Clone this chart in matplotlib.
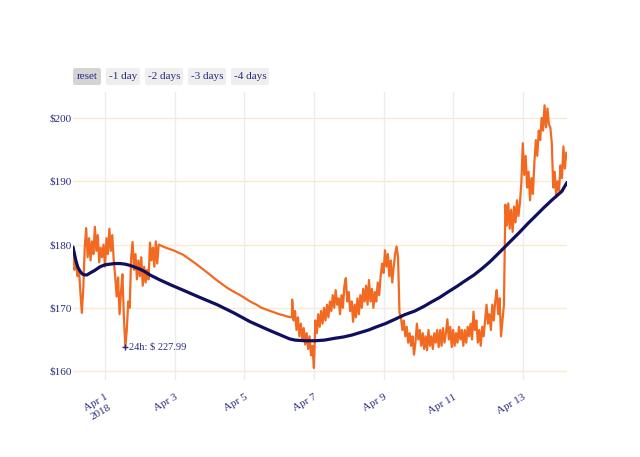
import numpy as np
import pandas as pd
import matplotlib
matplotlib.use("Agg")
import matplotlib.pyplot as plt
from matplotlib.patches import FancyBboxPatch

plt.rcParams['font.family'] = ['Liberation Serif', 'DejaVu Serif']

# --- data -------------------------------------------------------------
base_day = pd.Timestamp('2018-04-01')

# hourly prices, first block (Mar 31 02:00 onwards)
price_a_start = '2018-03-31 02:00'
price_a = [
    179.4, 176.0, 177.5, 175.0, 176.2, 172.5, 169.2, 173.0, 179.5, 182.6,
    178.0, 181.0, 177.5, 180.5, 178.5, 182.8, 179.0, 181.5, 177.2, 179.5,
    178.0, 180.0, 176.5, 181.0, 178.5, 182.5, 179.0, 181.5, 177.5, 175.0,
    171.8, 174.8, 169.0, 172.5, 175.3, 168.5, 163.8, 166.5, 171.0, 170.0,
    177.9, 180.4, 176.0, 178.5, 174.5, 177.5, 175.0, 178.0, 173.5, 176.5,
    174.0, 176.0, 174.5, 180.3, 177.5, 179.5, 176.5, 180.5, 177.0, 180.0,
]

# gap in the feed (days after Apr 1, price)
gap_days = [1.62, 1.70, 1.85, 2.0, 2.24, 2.5, 2.72, 3.0, 3.2, 3.35, 3.5,
            3.68, 3.85, 4.0, 4.17, 4.35, 4.5, 4.65, 4.8, 5.0, 5.14, 5.25, 5.37]
gap_price = [179.8, 179.6, 179.3, 179.0, 178.4, 177.4, 176.5, 175.3, 174.4,
             173.8, 173.2, 172.6, 172.1, 171.6, 171.0, 170.5, 170.0, 169.7,
             169.4, 169.0, 168.8, 168.6, 168.5]

# hourly prices, second block
price_b_start = '2018-04-06 09:00'
price_b = [
    171.3, 168.0, 169.5, 166.5, 168.5, 165.5, 167.5, 165.0, 166.8, 164.2,
    166.0, 163.5, 165.5, 162.5, 164.0, 160.5, 168.0, 166.0, 169.0, 167.0,
    169.5, 167.5, 170.0, 168.0, 170.5, 168.5, 171.0, 169.5, 172.0, 170.0,
    172.8, 170.5, 171.5, 169.0, 172.0, 170.0, 173.5, 174.7, 171.0, 172.5,
    169.5, 171.0, 167.8, 170.5, 168.5, 171.5, 169.0, 172.0, 170.0, 173.0,
    171.0, 173.5, 170.5, 174.4, 171.0, 173.0, 170.0, 172.5, 171.0, 174.0,
    172.0, 175.0, 177.0, 175.5, 179.1, 176.5, 178.5, 175.0, 177.5, 174.0,
    176.5, 178.5, 179.7, 178.0, 169.2, 168.5, 166.5, 168.0, 165.5, 167.0,
    164.5, 166.0, 164.0, 165.5, 162.6, 164.5, 167.5, 165.0, 166.5, 164.0,
    166.0, 163.5, 165.5, 163.3, 166.5, 164.0, 165.5, 163.5, 166.0, 164.5,
    166.5, 163.8, 166.5, 164.0, 166.8, 164.5, 166.0, 168.2, 165.0, 167.0,
    163.8, 166.5, 164.0, 166.0, 164.5, 167.0, 165.0, 166.5, 164.0, 166.5,
    164.5, 167.0, 165.5, 167.5, 165.0, 169.4, 166.5, 168.0, 164.5, 166.5,
    164.0, 167.0, 165.5, 168.0, 170.5, 167.5, 169.0, 166.5, 170.5, 168.0,
    171.0, 172.8, 169.0, 171.5, 165.5, 168.0, 170.5, 186.3, 183.0, 186.5,
    182.5, 185.5, 182.0, 186.0, 183.5, 187.0, 184.5, 186.5, 189.7, 196.0,
    191.0, 194.0, 189.0, 191.5, 187.0, 190.5, 188.0, 193.0, 196.5, 194.0,
    198.0, 196.5, 200.0, 198.0, 202.0, 198.5, 201.5, 199.0, 198.5, 196.0,
    189.0, 191.5, 187.5, 190.0, 188.5, 192.5, 190.5, 195.5, 192.0, 194.5,
]

# moving average (days after Apr 1, price)
ma_days = [-0.92, -0.87, -0.83, -0.78, -0.72, -0.66, -0.60, -0.52, -0.43,
           -0.30, -0.14, 0.0, 0.14, 0.28, 0.43, 0.58, 0.72, 0.87, 1.01, 1.15,
           1.29, 1.58, 1.9, 2.24, 2.7, 3.22, 3.7, 4.17, 4.74, 5.0, 5.17, 5.3,
           5.46, 5.75, 6.03, 6.3, 6.61, 6.85, 7.09, 7.33, 7.57, 7.8, 8.05,
           8.33, 8.6, 8.9, 9.15, 9.4, 9.6, 9.85, 10.11, 10.35, 10.6, 10.85,
           11.06, 11.3, 11.59, 11.9, 12.16, 12.4, 12.6, 12.85, 13.12, 13.27]
ma_price = [179.6, 178.3, 177.3, 176.4, 175.8, 175.4, 175.2, 175.2, 175.5,
            175.9, 176.5, 176.8, 176.9, 177.0, 177.0, 176.9, 176.7, 176.4,
            176.1, 175.7, 175.2, 174.4, 173.6, 172.8, 171.7, 170.5, 169.2,
            167.8, 166.4, 165.8, 165.4, 165.1, 164.9, 164.8, 164.8, 164.9,
            165.2, 165.4, 165.7, 166.1, 166.5, 167.0, 167.5, 168.2, 168.9,
            169.5, 170.2, 171.0, 171.6, 172.5, 173.4, 174.3, 175.2, 176.3,
            177.3, 178.6, 180.2, 181.9, 183.4, 184.7, 185.8, 187.1, 188.4,
            189.8]

y_ticks = [160, 170, 180, 190, 200]
x_tick_days = ['2018-04-01', '2018-04-03', '2018-04-05', '2018-04-07',
               '2018-04-09', '2018-04-11', '2018-04-13']
x_tick_labels = ['Apr 1\n2018', 'Apr 3', 'Apr 5', 'Apr 7', 'Apr 9',
                 'Apr 11', 'Apr 13']
buttons = ['reset', '-1 day', '-2 days', '-3 days', '-4 days']
note_text = '24h: $ 227.99'

# --- series -----------------------------------------------------------
t_a = pd.date_range(price_a_start, periods=len(price_a), freq='h')
t_gap = base_day + pd.to_timedelta(gap_days, unit='D')
t_b = pd.date_range(price_b_start, periods=len(price_b), freq='h')
price_t = t_a.append(t_gap).append(t_b)
price_v = np.array(price_a + gap_price + price_b)
ma_t = base_day + pd.to_timedelta(ma_days, unit='D')

text_col = '#2b2b7e'
orange = '#f26a21'
navy = '#0f0f5f'

W, H = 640, 457
fig = plt.figure(figsize=(W / 100, H / 100), dpi=100)
ax = fig.add_axes([73 / W, 1 - 380 / H, 494 / W, 288 / H])

ax.plot(price_t, price_v, color=orange, lw=1.6, zorder=3)
ax.plot(ma_t, ma_price, color=navy, lw=2.3, zorder=4, solid_capstyle='round')

# low point marker
i_min = int(np.argmin(price_a))
ax.plot([t_a[i_min]], [price_a[i_min]], marker='+', ms=5, mew=1,
        color=text_col, zorder=5)
ax.annotate(note_text, (t_a[i_min], price_a[i_min]), xytext=(2.5, 0),
            textcoords='offset points', va='center', ha='left',
            fontsize=7.5, color=text_col, zorder=6)

ax.set_xlim(min(price_t.min(), ma_t.min()), max(price_t.max(), ma_t.max()))
ax.set_ylim(158.6, 204.1)

ax.set_yticks(y_ticks)
ax.set_yticklabels([f'${v}' for v in y_ticks], fontsize=8, color=text_col)
ax.set_xticks(pd.to_datetime(x_tick_days))
ax.set_xticklabels(x_tick_labels, fontsize=8, color=text_col, rotation=30,
                   ha='right', va='top', rotation_mode='anchor',
                   multialignment='center')
ax.tick_params(axis='both', length=0)
ax.tick_params(axis='y', pad=1)
ax.tick_params(axis='x', pad=9)

for s in ax.spines.values():
    s.set_visible(False)
ax.grid(axis='y', color='#fde8d3', lw=1)
ax.grid(axis='x', color='#ececec', lw=1)
ax.set_axisbelow(True)

# range buttons
btn_x = [73, 106, 145, 188, 231]
btn_w = [28, 34, 38, 38, 38]
for k, lab in enumerate(buttons):
    face = '#d4d4d4' if k == 0 else '#eeeeee'
    box = FancyBboxPatch((btn_x[k] / W, 1 - 85 / H), btn_w[k] / W, 17 / H,
                         boxstyle='round,pad=0,rounding_size=0.004',
                         transform=fig.transFigure, facecolor=face,
                         edgecolor='none')
    fig.patches.append(box)
    fig.text((btn_x[k] + btn_w[k] / 2) / W, 1 - 76.5 / H, lab, ha='center',
             va='center', fontsize=8, color=text_col)

fig.savefig('out.png', dpi=100)
